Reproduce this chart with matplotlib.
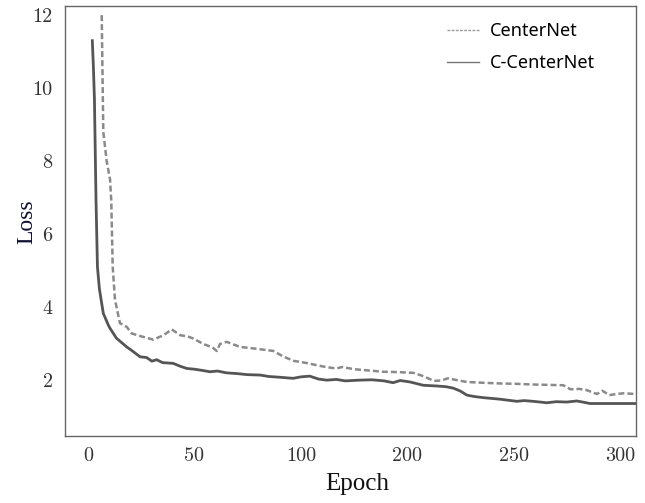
import matplotlib
matplotlib.use("Agg")
import matplotlib.pyplot as plt
from matplotlib.lines import Line2D

# ---- data ----
c_epochs = [2.4, 3.0, 3.6, 4.5, 5.3, 6.4, 7.7, 8.6, 11.5, 12.4, 16, 21.8, 25, 29.3, 33, 36, 38.7, 42,
            48, 52, 55.7, 60, 64, 68.8, 73, 78, 84, 90, 97, 102, 108, 115.6, 120, 125, 130, 134.6,
            140, 145, 153, 160, 167, 172, 176, 181.6, 189, 196.7, 202, 206, 210, 213.6, 218, 223,
            232, 241.8, 246, 251, 255, 258.7, 264, 270, 275.6, 280, 283, 290, 300, 309]
c_loss = [11.3, 10.6, 9.7, 6.9, 5.1, 4.5, 4.1, 3.83, 3.5, 3.42, 3.15, 2.91, 2.8, 2.64, 2.62, 2.52, 2.56, 2.48,
          2.46, 2.38, 2.32, 2.3, 2.27, 2.23, 2.25, 2.2, 2.18, 2.15, 2.14, 2.1, 2.08, 2.05, 2.09, 2.11, 2.03, 2.0,
          2.02, 1.98, 2.0, 2.01, 1.98, 1.93, 1.99, 1.95, 1.86, 1.84, 1.82, 1.78, 1.70, 1.59, 1.55, 1.52,
          1.48, 1.42, 1.44, 1.42, 1.40, 1.38, 1.41, 1.40, 1.43, 1.39, 1.36, 1.36, 1.36, 1.36]

b_epochs = [7.7, 8.6, 10.5, 12.4, 13.1, 13.9, 15.2, 18, 21.8, 24.6, 30, 36.8, 42.5, 47.2, 52, 56, 59.4,
            65, 70, 72.6, 74.4, 78.2, 85.7, 95, 104.5, 110, 115.8, 122, 129, 134, 140, 143.3, 150,
            157, 166.5, 175, 183.5, 189, 195, 199, 203, 208, 213.6, 222, 232, 241, 251, 260, 268,
            272, 277, 281, 287, 290, 294, 298, 302, 309]
b_loss = [12.0, 8.8, 8.0, 7.5, 6.9, 5.1, 4.2, 3.56, 3.46, 3.28, 3.2, 3.11, 3.23, 3.39, 3.23, 3.2, 3.14,
          2.99, 2.9, 2.8, 2.99, 3.05, 2.91, 2.86, 2.8, 2.65, 2.53, 2.48, 2.41, 2.36, 2.32, 2.36, 2.30,
          2.27, 2.23, 2.22, 2.2, 2.11, 1.98, 1.99, 2.05, 2.0, 1.95, 1.93, 1.91, 1.90, 1.88, 1.87, 1.86,
          1.75, 1.76, 1.73, 1.62, 1.71, 1.59, 1.62, 1.64, 1.62]

xtick_pos = [0, 60, 120, 180, 240, 300]
xtick_labels = ['0', '50', '100', '200', '250', '300']
ytick_vals = [2, 4, 6, 8, 10, 12]
series_names = ['CenterNet', 'C-CenterNet']

fig = plt.figure(figsize=(6.45, 5.03), dpi=100)
ax = fig.add_axes([65/645, 1-436/503, 571/645, 430/503])

ax.plot(b_epochs, b_loss, color='#8a8a8a', lw=1.8, linestyle=(0, (2.4, 1.2)))
ax.plot(c_epochs, c_loss, color='#555555', lw=2.0)

ax.set_xlim(-13, 309)
ax.set_ylim(0.47, 12.25)
ax.set_xticks(xtick_pos)
ax.set_xticklabels(xtick_labels)
ax.set_yticks(ytick_vals)
ax.set_yticklabels([str(v) for v in ytick_vals])
ax.tick_params(length=0, labelsize=14.5, labelcolor='#333333')
ax.tick_params(axis='x', pad=8)
ax.tick_params(axis='y', pad=9)
for lab in ax.get_xticklabels() + ax.get_yticklabels():
    lab.set_family('cmr10')
for sp in ax.spines.values():
    sp.set_color('#666666')
    sp.set_linewidth(1.0)

ax.set_xlabel('Epoch', family='Liberation Serif', fontsize=18, color='#111111')
ax.set_ylabel('Loss', family='Liberation Serif', fontsize=17, color='#111133')
ax.xaxis.set_label_coords((357 - 65) / 571, (436 - 484) / 430)
ax.xaxis.label.set_verticalalignment('center')
ax.yaxis.set_label_coords((27 - 65) / 571, (436 - 222) / 430)
ax.yaxis.label.set_verticalalignment('center')

handles = [Line2D([], [], color='#999999', lw=1.0, linestyle=(0, (2, 1))),
           Line2D([], [], color='#777777', lw=1.0)]
ax.legend(handles, series_names, loc='upper left', bbox_to_anchor=((447 - 65) / 571, 0.962),
          frameon=False, prop={'family': 'Noto Sans', 'size': 13}, handlelength=1.75,
          handletextpad=0.65, labelspacing=0.75, borderpad=0, borderaxespad=0)

fig.savefig('out.png', dpi=100)
